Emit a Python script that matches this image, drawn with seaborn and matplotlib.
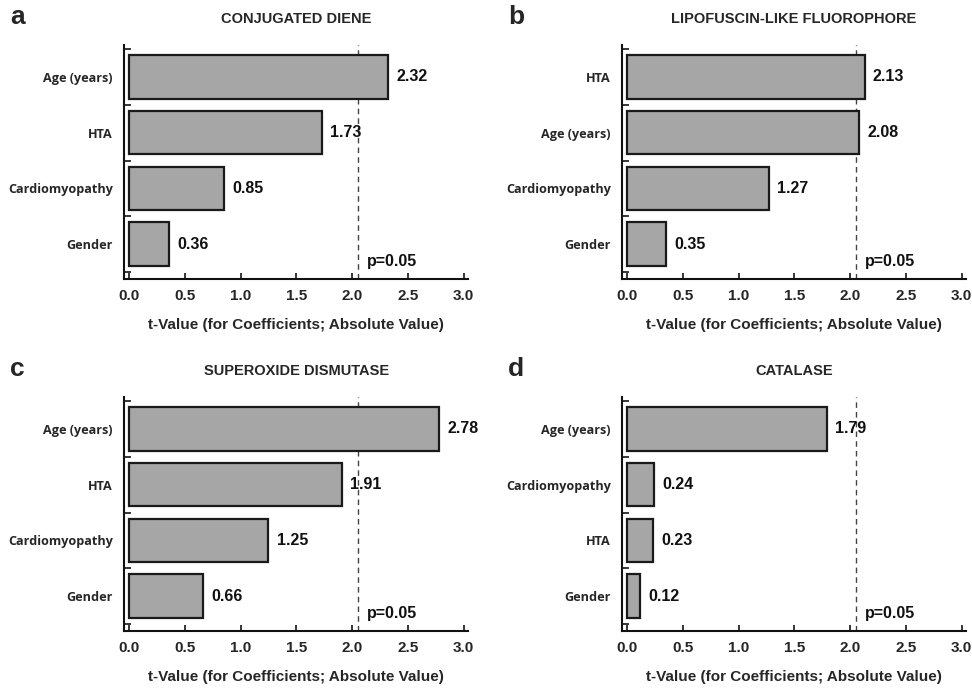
import matplotlib
matplotlib.use("Agg")
import matplotlib.pyplot as plt
import seaborn as sns

# data per panel
cats_a = ["Age (years)", "HTA", "Cardiomyopathy", "Gender"]
vals_a = [2.32, 1.73, 0.85, 0.36]
cats_b = ["HTA", "Age (years)", "Cardiomyopathy", "Gender"]
vals_b = [2.13, 2.08, 1.27, 0.35]
cats_c = ["Age (years)", "HTA", "Cardiomyopathy", "Gender"]
vals_c = [2.78, 1.91, 1.25, 0.66]
cats_d = ["Age (years)", "Cardiomyopathy", "HTA", "Gender"]
vals_d = [1.79, 0.24, 0.23, 0.12]

titles = ["CONJUGATED DIENE", "LIPOFUSCIN-LIKE FLUOROPHORE",
          "SUPEROXIDE DISMUTASE", "CATALASE"]
letters = ["a", "b", "c", "d"]
p_crit = 2.05
xticks = [0.0, 0.5, 1.0, 1.5, 2.0, 2.5, 3.0]

sns.set_style("ticks")
plt.rcParams['font.family'] = ['Liberation Sans', 'DejaVu Sans']
plt.rcParams['font.weight'] = 'bold'

fig = plt.figure(figsize=(9.72, 6.91), dpi=100)

# axes boxes [left, bottom, width, height] in figure fractions
boxes = [
    [0.1276, 0.5962, 0.354, 0.3386],
    [0.6399, 0.5962, 0.354, 0.3386],
    [0.1276, 0.0868, 0.354, 0.3386],
    [0.6399, 0.0868, 0.354, 0.3386],
]
panels = [(cats_a, vals_a), (cats_b, vals_b), (cats_c, vals_c), (cats_d, vals_d)]

for i, (cats, vals) in enumerate(panels):
    ax = fig.add_axes(boxes[i])
    sns.barplot(x=vals, y=cats, order=cats, orient="h", color="#a6a6a6",
                saturation=1, edgecolor="#1a1a1a", linewidth=1.6, width=0.78, ax=ax)
    ax.bar_label(ax.containers[0], labels=[f"{v:.2f}" for v in vals],
                 padding=6, fontsize=11.5, fontweight="bold", color="#111111")

    ax.axvline(p_crit, color="#444444", lw=1.0, ls=(0, (4, 3)), zorder=0.5)
    ax.text(p_crit + 0.08, 3.32, "p=0.05", fontsize=11.5, fontweight="bold",
            va="center", ha="left", color="#111111")

    ax.set_xlim(-0.045, 3.04)
    ax.set_ylim(3.626, -0.572)
    ax.set_xticks(xticks)
    ax.set_xticklabels([f"{t:.1f}" for t in xticks], fontsize=11, fontweight="bold")
    ax.set_yticks([-0.5, 0.5, 1.5, 2.5, 3.5], minor=True)
    ax.tick_params(axis="y", which="major", length=0, pad=8)
    ax.tick_params(axis="y", which="minor", direction="in", length=5, width=1.3)
    ax.tick_params(axis="x", direction="in", length=4, width=1.3, pad=7)
    for lab in ax.get_yticklabels():
        lab.set_fontfamily(["Open Sans", "DejaVu Sans"])
        lab.set_fontweight("bold")
        lab.set_fontsize(9.1)

    sns.despine(ax=ax)
    for s in ["left", "bottom"]:
        ax.spines[s].set_linewidth(1.5)
        ax.spines[s].set_color("#111111")

    ax.set_xlabel("t-Value (for Coefficients; Absolute Value)", fontsize=11,
                  fontweight="bold", labelpad=11)
    ax.set_ylabel("")
    ax.set_title(titles[i], fontsize=10.5, fontweight="bold", pad=16)

    x0 = boxes[i][0]
    y1 = boxes[i][1] + boxes[i][3]
    fig.text(x0 - 0.117, y1 + 0.03, letters[i], fontsize=19, fontweight="bold",
             ha="left", va="baseline")

fig.savefig("out.png", dpi=100)
